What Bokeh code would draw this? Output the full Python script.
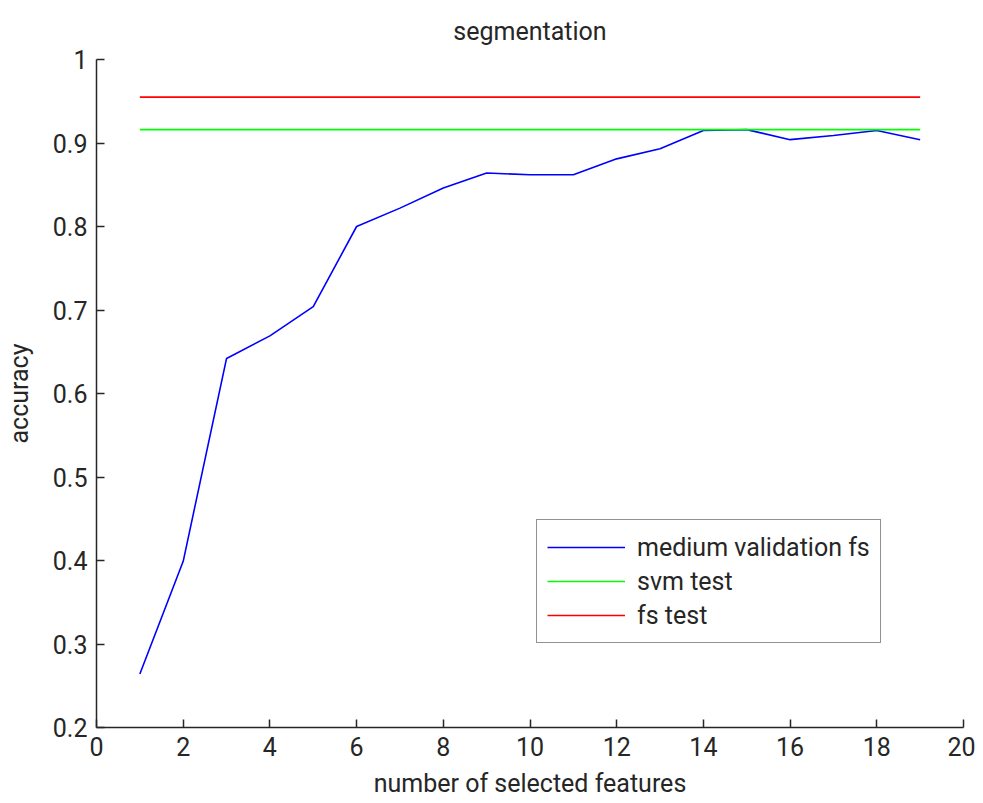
from bokeh.plotting import figure
from bokeh.models import Legend, LegendItem, Range1d, FixedTicker
from bokeh.embed import file_html
from bokeh.resources import INLINE

# data
n_features = list(range(1, 20))
medium_validation_fs = [0.264, 0.399, 0.642, 0.669, 0.704, 0.800, 0.822, 0.846, 0.864,
                        0.862, 0.862, 0.881, 0.893, 0.915, 0.916, 0.904, 0.909, 0.915, 0.904]
svm_test = 0.916
fs_test = 0.955
x_ticks = list(range(0, 21, 2))
y_ticks = [0.2, 0.3, 0.4, 0.5, 0.6, 0.7, 0.8, 0.9, 1.0]

FONT = "Roboto"
FS = "25px"

p = figure(width=975, height=795, output_backend="svg", toolbar_location=None,
           x_range=Range1d(0, 20), y_range=Range1d(0.2, 1.0),
           frame_width=867, frame_height=668,
           min_border_left=96, min_border_right=12, min_border_top=58, min_border_bottom=69,
           title="segmentation")
p.outline_line_color = None
p.grid.visible = False

p.title.align = "center"
p.title.text_font = FONT
p.title.text_font_size = FS
p.title.text_font_style = "normal"
p.title.text_color = "#262626"
p.title.standoff = 28

for ax in (p.xaxis[0], p.yaxis[0]):
    ax.major_label_text_font = FONT
    ax.major_label_text_font_size = FS
    ax.axis_label_text_font = FONT
    ax.axis_label_text_font_size = FS
    ax.axis_label_text_font_style = "normal"
    ax.major_tick_in = 8
    ax.major_tick_out = 0
    ax.minor_tick_line_color = None
    ax.axis_line_width = 1.5
    ax.major_tick_line_width = 1.5
    ax.axis_line_color = "#262626"
    ax.major_tick_line_color = "#262626"
    ax.major_label_text_color = "#262626"
    ax.axis_label_text_color = "#262626"

p.xaxis.major_label_standoff = 9
p.yaxis.major_label_standoff = 9
p.yaxis.axis_label_standoff = 16
p.xaxis.axis_label_standoff = 10

p.xaxis.ticker = FixedTicker(ticks=x_ticks)
p.yaxis.ticker = FixedTicker(ticks=y_ticks)
p.yaxis.major_label_overrides = {1.0: "1"}
p.xaxis.axis_label = "number of selected features"
p.yaxis.axis_label = "accuracy"

r1 = p.line(n_features, medium_validation_fs, line_color="#0000ff", line_width=1.6)
r2 = p.line([n_features[0], n_features[-1]], [svm_test, svm_test], line_color="#00ff00", line_width=1.6)
r3 = p.line([n_features[0], n_features[-1]], [fs_test, fs_test], line_color="#ff0000", line_width=1.6)

legend = Legend(items=[LegendItem(label="medium validation fs", renderers=[r1]),
                       LegendItem(label="svm test", renderers=[r2]),
                       LegendItem(label="fs test", renderers=[r3])],
                location=(440, 84))
legend.label_text_font = FONT
legend.label_text_font_size = FS
legend.label_text_color = "#262626"
legend.border_line_color = "#262626"
legend.border_line_width = 1.5
legend.padding = 10
legend.spacing = 0
legend.label_height = 34
legend.glyph_height = 34
legend.glyph_width = 78
legend.label_standoff = 12
legend.margin = 0
p.add_layout(legend, "center")

open("out.html", "w").write(file_html(p, INLINE))
